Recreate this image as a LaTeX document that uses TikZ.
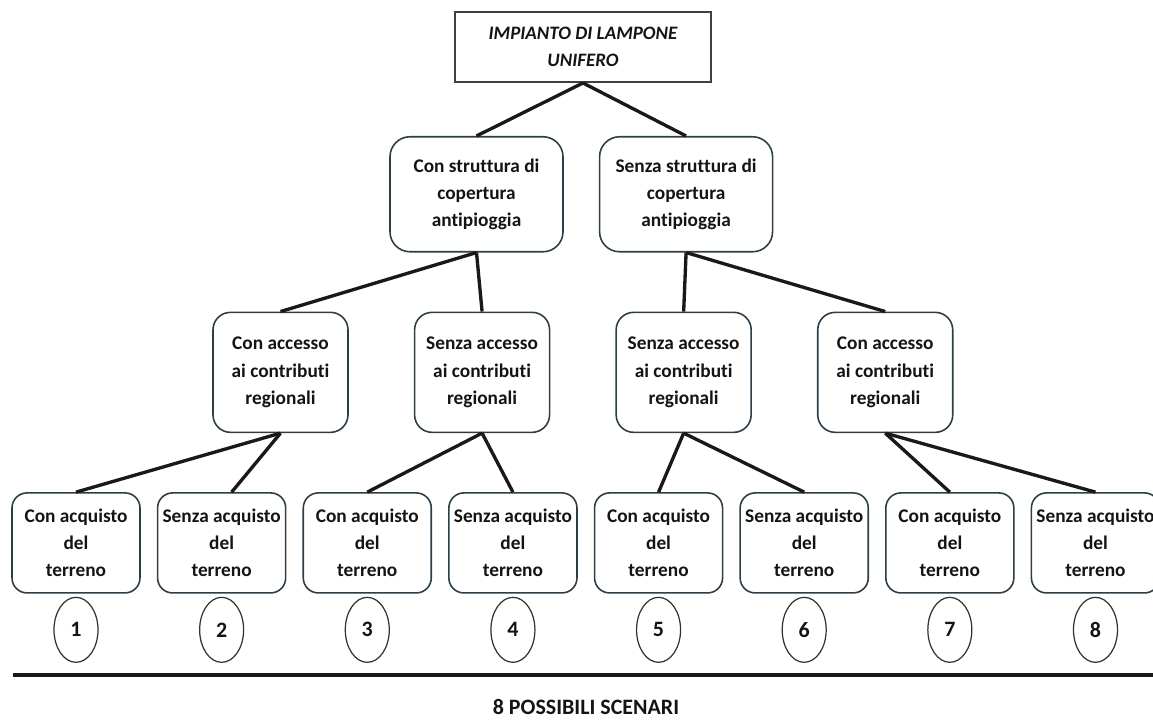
\documentclass[tikz,border=0pt]{standalone}
\usepackage{fontspec}
\setmainfont{Carlito}[Ligatures=NoCommon]
\usetikzlibrary{shapes.geometric, positioning}

\definecolor{boxline}{RGB}{45,62,70}
\definecolor{txt}{RGB}{20,20,20}

\begin{document}
\begin{tikzpicture}[
        topbox/.style={rectangle, minimum width=5.12cm, minimum height=1.4cm, align=center, draw=black!75, line width=1.1pt, text=txt, font=\fontsize{10.8}{15.5}\selectfont\bfseries\itshape},
        branch/.style={rectangle, rounded corners=0.4cm, minimum width=3.46cm, minimum height=2.3cm, align=center, draw=boxline, line width=0.9pt, text=txt, font=\fontsize{11}{15.5}\selectfont\bfseries},
        access/.style={branch, minimum width=2.7cm, minimum height=2.4cm, rounded corners=0.35cm},
        leaf/.style={branch, minimum width=2.56cm, minimum height=2.0cm, rounded corners=0.3cm, inner xsep=0.1cm},
        scen/.style={ellipse, minimum width=0.88cm, minimum height=1.3cm, inner sep=0pt, draw=black!80, line width=0.7pt, text=txt, font=\fontsize{12.5}{14}\selectfont\bfseries},
        link/.style={draw=black!90, line width=1.9pt},
        rule/.style={draw=black!90, line width=2.4pt},
        caption/.style={text=txt, font=\fontsize{12.5}{14}\selectfont\bfseries}
    ]
        \useasboundingbox (0,0) rectangle (23.06,-14.4);

        % Nút gốc
        \node (root) [topbox] at (11.66,-0.94) {IMPIANTO DI LAMPONE\\UNIFERO};

        % Cấp 1: struttura antipioggia
        \node (s1) [branch, below=1.06cm of root.south, xshift=-2.13cm] {Con struttura di\\copertura\\antipioggia};
        \node (s2) [branch, right=0.7cm of s1] {Senza struttura di\\copertura\\antipioggia};

        % Cấp 2: contributi regionali
        \node (c1) [access, below=1.18cm of s1.south, xshift=-3.92cm] {Con accesso\\ai contributi\\regionali};
        \node (c2) [access, right=1.3cm of c1] {Senza accesso\\ai contributi\\regionali};
        \node (c3) [access, right=1.3cm of c2] {Senza accesso\\ai contributi\\regionali};
        \node (c4) [access, right=1.3cm of c3] {Con accesso\\ai contributi\\regionali};

        % Cấp 3: acquisto del terreno
        \node (t1) [leaf, below=1.18cm of c1.south, xshift=-4.09cm] {Con acquisto\\del\\terreno};
        \node (t2) [leaf, right=0.32cm of t1] {Senza acquisto\\del\\terreno};
        \node (t3) [leaf, right=0.32cm of t2] {Con acquisto\\del\\terreno};
        \node (t4) [leaf, right=0.32cm of t3] {Senza acquisto\\del\\terreno};
        \node (t5) [leaf, right=0.32cm of t4] {Con acquisto\\del\\terreno};
        \node (t6) [leaf, right=0.32cm of t5] {Senza acquisto\\del\\terreno};
        \node (t7) [leaf, right=0.32cm of t6] {Con acquisto\\del\\terreno};
        \node (t8) [leaf, right=0.32cm of t7] {Senza acquisto\\del\\terreno};

        % Số kịch bản
        \node (n1) [scen, below=0.06cm of t1] {1};
        \node (n2) [scen, below=0.06cm of t2] {2};
        \node (n3) [scen, below=0.06cm of t3] {3};
        \node (n4) [scen, below=0.06cm of t4] {4};
        \node (n5) [scen, below=0.06cm of t5] {5};
        \node (n6) [scen, below=0.06cm of t6] {6};
        \node (n7) [scen, below=0.06cm of t7] {7};
        \node (n8) [scen, below=0.06cm of t8] {8};

        % Đường nối
        \draw [link] (root.south) -- (s1.north);
        \draw [link] (root.south) -- (s2.north);
        \draw [link] (s1.south) -- (c1.north);
        \draw [link] (s1.south) -- (c2.north);
        \draw [link] (s2.south) -- (c3.north);
        \draw [link] (s2.south) -- (c4.north);
        \draw [link] (c1.south) -- (t1.north);
        \draw [link] (c1.south) -- ([xshift=0.2cm]t2.north);
        \draw [link] (c2.south) -- (t3.north);
        \draw [link] (c2.south) -- (t4.north);
        \draw [link] (c3.south) -- (t5.north);
        \draw [link] (c3.south) -- (t6.north);
        \draw [link] (c4.south) -- (t7.north);
        \draw [link] (c4.south) -- (t8.north);

        % Đường kẻ và chú thích
        \coordinate (ruleL) at (0.26,-13.5);
        \coordinate (ruleR) at (23.06,-13.5);
        \draw [rule] (ruleL) -- (ruleR);
        \node (cap) [caption] at (11.72,-14.14) {8 POSSIBILI SCENARI};

    \end{tikzpicture}
\end{document}
